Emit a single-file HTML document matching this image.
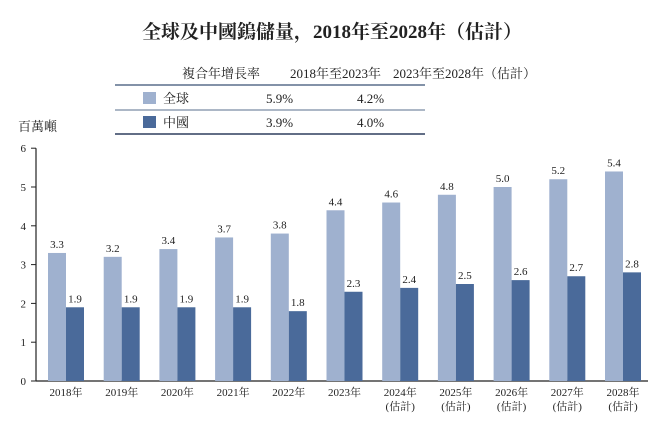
<!DOCTYPE html>
<html><head><meta charset="utf-8"><style>
body{margin:0;background:#fff;font-family:"Liberation Serif","Noto Serif CJK SC","Noto Sans CJK TC",serif;}
svg text{font-family:"Liberation Serif","Noto Serif CJK SC","Noto Sans CJK TC",serif;fill:#222;}
</style></head><body>
<svg id="c" width="665" height="430">
<text x="332" y="38" text-anchor="middle" font-size="19" font-weight="bold" font-family="'Liberation Serif','Noto Sans CJK TC',sans-serif">全球及中國鎢儲量，2018年至2028年（估計）</text>
<g>
<text x="182" y="78" font-size="13" fill="#335">複合年增長率</text>
<text x="290" y="78" font-size="13">2018年至2023年</text>
<text x="393" y="78" font-size="13">2023年至2028年（估計）</text>
<line x1="115" y1="85" x2="425" y2="85" stroke="#5a6f8c" stroke-width="1.5"/>
<rect x="143" y="92" width="13" height="12" fill="#9fb1cf"/>
<text x="163" y="103" font-size="13">全球</text>
<text x="266" y="103" font-size="13">5.9%</text>
<text x="357" y="103" font-size="13">4.2%</text>
<line x1="115" y1="110" x2="425" y2="110" stroke="#5a6f8c" stroke-width="1"/>
<rect x="143" y="116" width="13" height="12" fill="#4a6a9a"/>
<text x="163" y="127" font-size="13">中國</text>
<text x="266" y="127" font-size="13">3.9%</text>
<text x="357" y="127" font-size="13">4.0%</text>
<line x1="115" y1="134" x2="425" y2="134" stroke="#2e3f5e" stroke-width="1.5"/>
</g>
<text x="18" y="131" font-size="13">百萬噸</text>
<g id="plot"></g>
</svg>
<script>
const categories=["2018年","2019年","2020年","2021年","2022年","2023年","2024年","2025年","2026年","2027年","2028年"];
const estimated=[false,false,false,false,false,false,true,true,true,true,true];
const globalValues=[3.3,3.2,3.4,3.7,3.8,4.4,4.6,4.8,5.0,5.2,5.4];
const chinaValues=[1.9,1.9,1.9,1.9,1.8,2.3,2.4,2.5,2.6,2.7,2.8];
const yTicks=[0,1,2,3,4,5,6];
const NS="http://www.w3.org/2000/svg";
const g=document.getElementById('plot');
const y0=381,unit=38.8,x0=36;
const yS=v=>y0-v*unit;
const xS=i=>48+i*55.7;
const bw=18;
function mk(t,a,txt){const e=document.createElementNS(NS,t);for(const k in a)e.setAttribute(k,a[k]);if(txt!=null)e.textContent=txt;g.appendChild(e);return e;}
let ax=mk('line',{x1:x0,y1:yS(6),x2:x0,y2:y0,stroke:'#222','stroke-width':1.2});


let xa=mk('line',{x1:x0,y1:y0,x2:648,y2:y0,stroke:'#222','stroke-width':1.2});


yTicks.forEach(v=>{
 mk('line',{x1:x0-5,y1:yS(v),x2:x0,y2:yS(v),stroke:'#222'});
 const t=mk('text',{x:x0-10,y:yS(v)+4,'font-size':11,'text-anchor':'end'},v);
 
 
});
categories.forEach((c,i)=>{
 const x=xS(i);
 const b1=mk('rect',{x:x,y:yS(globalValues[i]),width:bw,height:globalValues[i]*unit,fill:'#9fb1cf'});
 
 
 const b2=mk('rect',{x:x+bw,y:yS(chinaValues[i]),width:bw,height:chinaValues[i]*unit,fill:'#4a6a9a'});
 
 
 const l1=mk('text',{x:x+bw/2,y:yS(globalValues[i])-5,'font-size':11,'text-anchor':'middle'},globalValues[i].toFixed(1));
 
 
 const l2=mk('text',{x:x+bw*1.5,y:yS(chinaValues[i])-5,'font-size':11,'text-anchor':'middle'},chinaValues[i].toFixed(1));
 
 
 const t=mk('text',{x:x+bw,y:396,'font-size':11,'text-anchor':'middle'},c);
 
 
 if(estimated[i]){const e=mk('text',{x:x+bw,y:410,'font-size':11,'text-anchor':'middle'},'(估計)');
 
 }
});
</script>
</body></html>
